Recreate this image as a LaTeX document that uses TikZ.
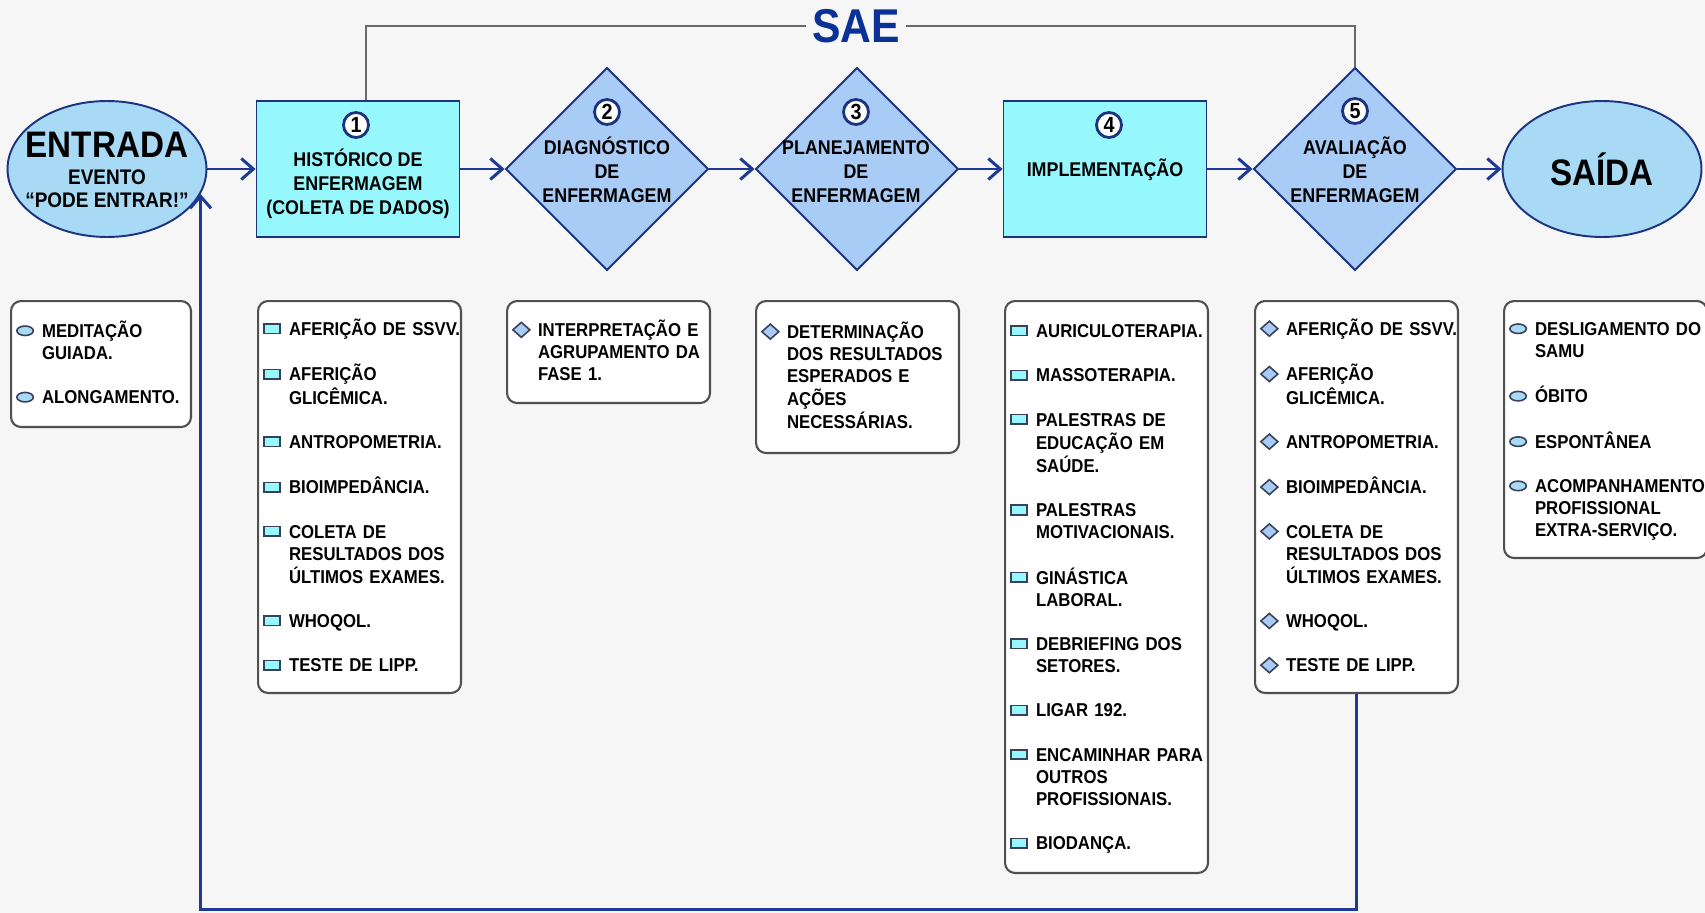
\documentclass[tikz,border=0pt]{standalone}
\usepackage{fontspec}
\setmainfont{Liberation Sans}[FakeStretch=0.9]
\usepackage{tikz}
\usetikzlibrary{arrows.meta,shapes,positioning}
\usepackage{xcolor}
\definecolor{aefundo}{RGB}{246,246,246}
\definecolor{aenavy}{RGB}{28,52,128}
\definecolor{aeseta}{RGB}{30,58,150}
\definecolor{aetitulo}{RGB}{10,50,150}
\definecolor{aeciano}{RGB}{150,248,252}
\definecolor{aelosango}{RGB}{168,204,245}
\definecolor{aeelipse}{RGB}{168,218,246}
\definecolor{aecinza}{RGB}{80,80,80}
\definecolor{aelinha}{RGB}{105,105,105}
\definecolor{aemarca}{RGB}{55,65,90}
\tikzstyle{arrow} = [line width=1.7pt,-{Straight Barb[length=0.24cm,width=0.42cm]},color=aeseta]
\tikzstyle{saelinha} = [line width=0.8pt,color=aelinha]
\tikzstyle{etapa} = [rectangle, minimum width=4.06cm, minimum height=2.72cm, draw=aenavy, fill=aeciano, line width=1.1pt, inner sep=0pt]
\tikzstyle{losango} = [diamond, minimum width=4.06cm, minimum height=4.06cm, draw=aenavy, fill=aelosango, line width=1.1pt, inner sep=0pt]
\tikzstyle{elipse} = [ellipse, minimum width=3.98cm, minimum height=2.72cm, draw=aenavy, fill=aeelipse, line width=1.1pt, inner sep=0pt]
\tikzstyle{numero} = [circle, minimum size=0.5cm, inner sep=0pt, draw=aenavy, fill=white, line width=1.6pt, font=\fontsize{12.5}{12.5}\selectfont\bfseries]
\tikzstyle{rotulo} = [align=center, font=\fontsize{11.3}{13.6}\selectfont\bfseries]
\tikzstyle{grande} = [font=\fontsize{21}{21}\selectfont\bfseries]
\tikzstyle{lista} = [rectangle, rounded corners=0.2cm, draw=aecinza, fill=white, line width=1.2pt, anchor=north west, inner xsep=0.1cm, inner ysep=0pt, align=left, font=\fontsize{10.6}{12.6}\selectfont\bfseries]
\newcommand{\salto}{12.6pt}
\newcommand{\topo}{\rule{0pt}{11.3pt}}
\newcommand{\iret}{\makebox[0.52cm][l]{\tikz[baseline=-3.8pt]\draw[sharp corners, line width=0.9pt, draw=aemarca, fill=aeciano] (-0.16cm,-0.095cm) rectangle (0.16cm,0.095cm);}}
\newcommand{\ilos}{\makebox[0.52cm][l]{\tikz[baseline=-3.8pt]\draw[sharp corners, line width=0.9pt, draw=aemarca, fill=aelosango] (0cm,0.15cm) -- (0.17cm,0cm) -- (0cm,-0.15cm) -- (-0.17cm,0cm) -- cycle;}}
\newcommand{\ieli}{\makebox[0.52cm][l]{\tikz[baseline=-3.8pt]\draw[line width=0.9pt, draw=aemarca, fill=aeelipse] (0cm,0cm) ellipse [x radius=0.165cm, y radius=0.095cm];}}

\begin{document}
\begin{tikzpicture}[x=0.02cm, y=-0.02cm]
\useasboundingbox (0,0) rectangle (1705,913);
\fill[aefundo] (0,0) rectangle (1705,913);

% Etapas
\node[elipse] (entrada) at (107,169) {};
\node[etapa] (hist) at (358,169) {};
\node[losango] (diag) at (607,169) {};
\node[losango] (plan) at (857,169) {};
\node[etapa] (impl) at (1105,169) {};
\node[losango] (aval) at (1355,169) {};
\node[elipse] (saida) at (1602,169) {};

% Textos das etapas
\node[grande] (entT) at (107,145) {ENTRADA};
\node[align=center, font=\fontsize{12}{13}\selectfont\bfseries] (entS) at (107,189) {EVENTO\\“PODE ENTRAR!”};
\node[numero] (n1) at (356,125) {1};
\node[rotulo] (t1) at (358,184) {HISTÓRICO DE\\ENFERMAGEM\\(COLETA DE DADOS)};
\node[numero] (n2) at (607,112) {2};
\node[rotulo] (t2) at (607,170) {DIAGNÓSTICO\\DE\\ENFERMAGEM};
\node[numero] (n3) at (856,112) {3};
\node[rotulo] (t3) at (856,172) {PLANEJAMENTO\\DE\\ENFERMAGEM};
\node[numero] (n4) at (1109,125) {4};
\node[rotulo] (t4) at (1105,170) {IMPLEMENTAÇÃO};
\node[numero] (n5) at (1355,111) {5};
\node[rotulo] (t5) at (1355,170) {AVALIAÇÃO\\DE\\ENFERMAGEM};
\node[grande] (saiT) at (1602,169) {SAÍDA};

% SAE
\node[font=\fontsize{27}{27}\selectfont\bfseries, text=aetitulo, inner xsep=3pt] (sae) at (856,26) {SAE};
\draw[saelinha] ([xshift=0.16cm]hist.north) |- (sae.west);
\draw[saelinha] (aval.north) |- (sae.east);

% Fluxo
\draw[arrow] (entrada) -- (hist);
\draw[arrow] (hist) -- (diag);
\draw[arrow] (diag) -- (plan);
\draw[arrow] (plan) -- (impl);
\draw[arrow] (impl) -- (aval);
\draw[arrow] (aval) -- (saida);

% Listas
\node[lista, text width=3.4cm, minimum height=2.52cm] (lent) at (10,300) {\begin{tabular}{@{}l@{}l@{}}
\ieli & \topo MEDITAÇÃO\\ & GUIADA.\\[\salto]
\ieli & ALONGAMENTO.
\end{tabular}};
\node[lista, text width=3.86cm, minimum height=7.84cm] (lhist) at (257,300) {\begin{tabular}{@{}l@{}l@{}}
\iret & \topo AFERIÇÃO DE SSVV.\\[\salto]
\iret & AFERIÇÃO\\ & GLICÊMICA.\\[\salto]
\iret & ANTROPOMETRIA.\\[\salto]
\iret & BIOIMPEDÂNCIA.\\[\salto]
\iret & COLETA DE\\ & RESULTADOS DOS\\ & ÚLTIMOS EXAMES.\\[\salto]
\iret & WHOQOL.\\[\salto]
\iret & TESTE DE LIPP.
\end{tabular}};
\node[lista, text width=3.86cm, minimum height=2.04cm] (ldiag) at (506,300) {\begin{tabular}{@{}l@{}l@{}}
\ilos & \topo INTERPRETAÇÃO E\\ & AGRUPAMENTO DA\\ & FASE 1.
\end{tabular}};
\node[lista, text width=3.86cm, minimum height=3.04cm] (lplan) at (755,300) {\begin{tabular}{@{}l@{}l@{}}
\ilos & \topo DETERMINAÇÃO\\ & DOS RESULTADOS\\ & ESPERADOS E\\ & AÇÕES\\ & NECESSÁRIAS.
\end{tabular}};
\node[lista, text width=3.86cm, minimum height=11.44cm] (limpl) at (1004,300) {\begin{tabular}{@{}l@{}l@{}}
\iret & \topo AURICULOTERAPIA.\\[\salto]
\iret & MASSOTERAPIA.\\[\salto]
\iret & PALESTRAS DE\\ & EDUCAÇÃO EM\\ & SAÚDE.\\[\salto]
\iret & PALESTRAS\\ & MOTIVACIONAIS.\\[\salto]
\iret & GINÁSTICA\\ & LABORAL.\\[\salto]
\iret & DEBRIEFING DOS\\ & SETORES.\\[\salto]
\iret & LIGAR 192.\\[\salto]
\iret & ENCAMINHAR PARA\\ & OUTROS\\ & PROFISSIONAIS.\\[\salto]
\iret & BIODANÇA.
\end{tabular}};
\node[lista, text width=3.86cm, minimum height=7.84cm] (laval) at (1254,300) {\begin{tabular}{@{}l@{}l@{}}
\ilos & \topo AFERIÇÃO DE SSVV.\\[\salto]
\ilos & AFERIÇÃO\\ & GLICÊMICA.\\[\salto]
\ilos & ANTROPOMETRIA.\\[\salto]
\ilos & BIOIMPEDÂNCIA.\\[\salto]
\ilos & COLETA DE\\ & RESULTADOS DOS\\ & ÚLTIMOS EXAMES.\\[\salto]
\ilos & WHOQOL.\\[\salto]
\ilos & TESTE DE LIPP.
\end{tabular}};
\node[lista, text width=3.86cm, minimum height=5.14cm] (lsaida) at (1503,300) {\begin{tabular}{@{}l@{}l@{}}
\ieli & \topo DESLIGAMENTO DO\\ & SAMU\\[\salto]
\ieli & ÓBITO\\[\salto]
\ieli & ESPONTÂNEA\\[\salto]
\ieli & ACOMPANHAMENTO\\ & PROFISSIONAL\\ & EXTRA-SERVIÇO.
\end{tabular}};

% Retorno
\coordinate (fundo) at (0,909);
\draw[arrow] (laval.south) |- (entrada.-15 |- fundo) -- (entrada.-15);
\end{tikzpicture}
\end{document}
